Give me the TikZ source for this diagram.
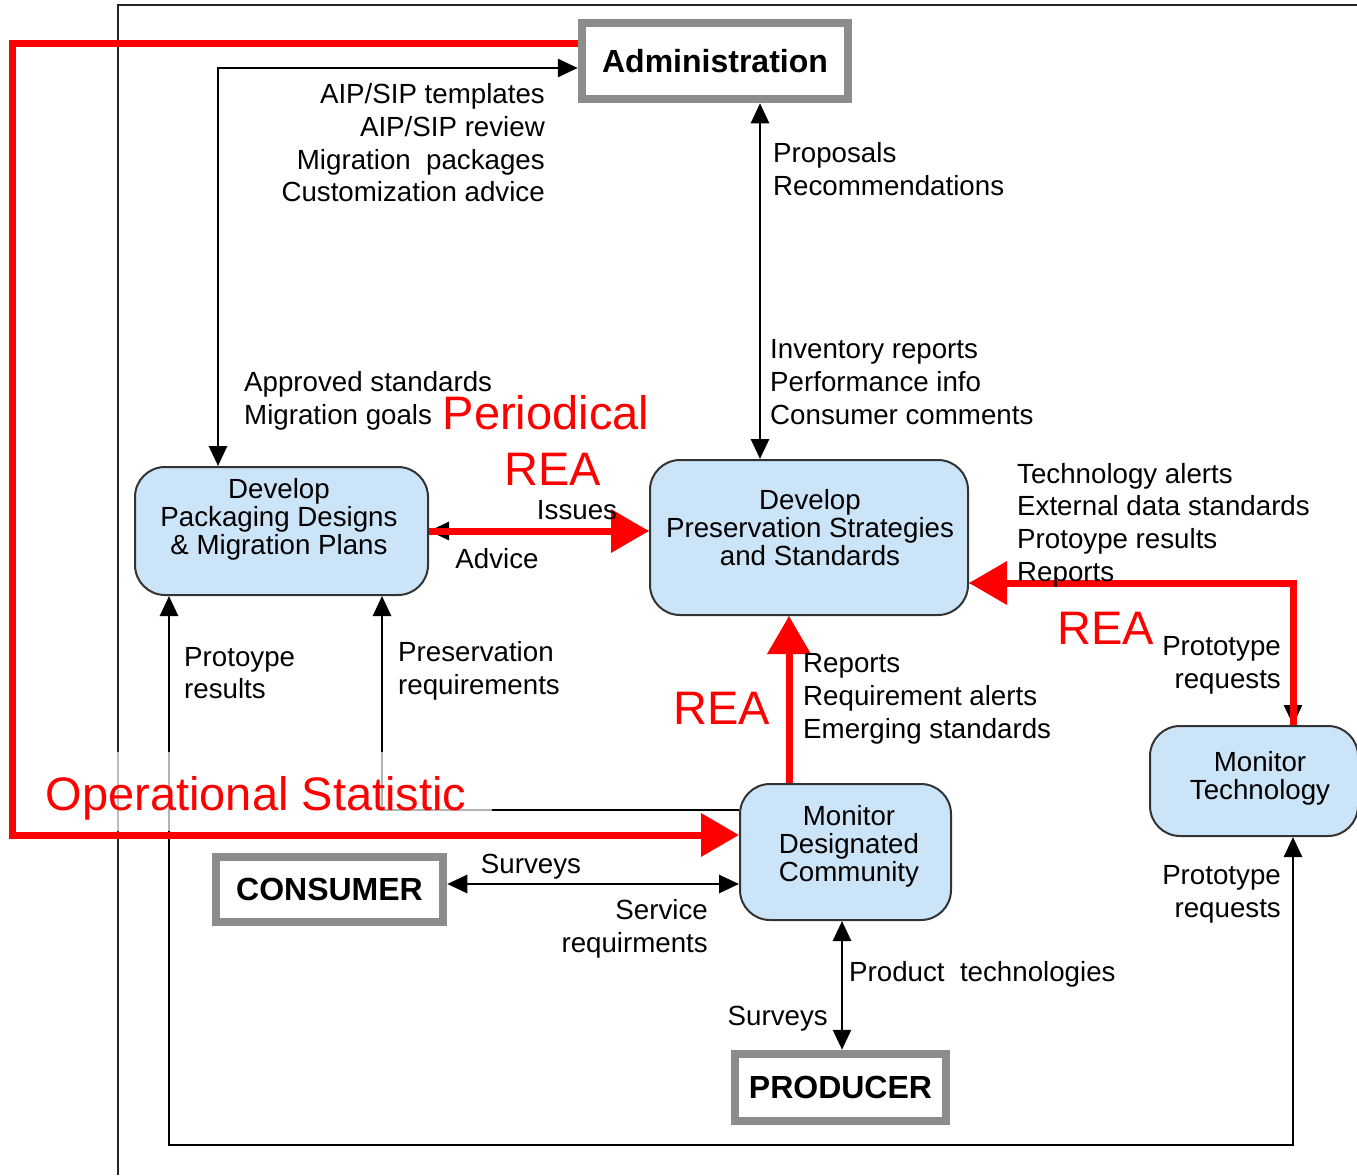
\documentclass[tikz,border=0pt]{standalone}
\usepackage{fontspec}
\setmainfont{Liberation Sans}
\usetikzlibrary{arrows.meta}
\definecolor{boxblue}{RGB}{204,228,248}
\definecolor{boxgray}{RGB}{140,140,140}
\definecolor{redc}{RGB}{255,0,0}
\begin{document}
\begin{tikzpicture}[x=1pt,y=-1pt,
  >={Triangle[length=20pt,width=18pt]},
  lbl/.style={inner sep=0pt, font=\fontsize{27.7}{32.7}\selectfont},
  procbox/.style={draw=black!80, line width=2pt, fill=boxblue, rounded corners=30pt, inner sep=0pt},
  proctext/.style={inner sep=0pt, align=center, font=\fontsize{27.7}{28}\selectfont},
  extbox/.style={draw=boxgray, line width=8.5pt, fill=white, inner sep=0pt, font=\fontsize{32}{38}\selectfont\bfseries},
  blk/.style={line width=2.8pt, black},
  redl/.style={line width=7pt, redc},
  redtip/.style={-{Triangle[length=38pt,width=42pt]}},
  redtxt/.style={inner sep=0pt, text=redc, font=\fontsize{47}{50}\selectfont}
]
\useasboundingbox (0,0) rectangle (1357,1175);
\fill[white] (0,0) rectangle (1357,1175);
% page frame
\draw[line width=1.2pt, black!85] (118,1175) -- (118,5) -- (1357,5);

% boxes
\node[extbox, minimum width=266pt, minimum height=76pt] (adm) at (715,61) {Administration};
\node[extbox, minimum width=227pt, minimum height=65pt] (cons) at (329.5,889.5) {CONSUMER};
\node[extbox, minimum width=211pt, minimum height=67pt] (prod) at (840.5,1087.5) {PRODUCER};

\node[procbox, minimum width=293pt, minimum height=128pt] (pk) at (281.5,531) {};
\node[proctext] (pkt) at (279,519) {Develop\\Packaging Designs\\\& Migration Plans};
\node[procbox, minimum width=318pt, minimum height=155pt] (ps) at (809,537.5) {};
\node[proctext] (pst) at (810,527.5) {Develop\\Preservation Strategies\\and Standards};
\node[procbox, minimum width=211pt, minimum height=136pt] (mdc) at (845.5,852) {};
\node[proctext] (mdct) at (849,846) {Monitor\\Designated\\Community};
\node[procbox, minimum width=208pt, minimum height=110pt] (mt) at (1254,781) {};
\node[proctext] (mtt) at (1260,778) {Monitor\\Technology};

% black connectors
\draw[blk, <->] (218,0 |- pk.north) -- (218,68) -- (adm.west |- 0,68);
\draw[blk, <->] (760,0 |- adm.south) -- (760,0 |- ps.north);
\draw[blk, <->] (pk.east) -- (pk.east -| ps.west);
\draw[blk, ->] (789,0 |- mdc.north) -- (789,0 |- ps.south);
\draw[blk, <->] (1293,0 |- mt.north) -- (1293,583) -- (ps.east |- 0,583);
\draw[blk, <->] (169,0 |- pk.south) -- (169,1145) -- (1293,1145) -- (1293,0 |- mt.south);
\draw[blk, <-] (382,0 |- pk.south) -- (382,810) -- (mdc.west |- 0,810);
\draw[blk, <->] (cons.east |- 0,884) -- (mdc.west |- 0,884);
\draw[blk, <->] (842,0 |- mdc.south) -- (842,0 |- prod.north);

% translucent overlay behind the red caption
\fill[white, fill opacity=0.7] (35,752) rectangle (492,831);

% red connectors
\draw[redl, redtip] (pk.east) -- (pk.east -| ps.west);
\draw[redl, redtip] (789,0 |- mdc.north) -- (789,0 |- ps.south);
\draw[redl, redtip] (1293,0 |- mt.north) -- (1293,583) -- (ps.east |- 0,583);
\draw[redl, redtip] (adm.west |- 0,43) -- (12,43) -- (12,835) -- (mdc.west |- 0,835);

% labels
\node[lbl, anchor=east, align=right] (lAdm) at (545,143) {AIP/SIP templates\\AIP/SIP review\\Migration\ \ packages\\Customization advice};
\node[lbl, anchor=west, align=left] (lProp) at (773,169) {Proposals\\Recommendations};
\node[lbl, anchor=west, align=left] (lInv) at (770,382) {Inventory reports\\Performance info\\Consumer comments};
\node[lbl, anchor=west, align=left] (lApp) at (244,400.5) {Approved standards\\Migration goals};
\node[lbl] (lIss) at (577,510) {Issues};
\node[lbl] (lAdv) at (497,559) {Advice};
\node[lbl, anchor=west, align=left] (lTech) at (1017,525) {Technology alerts\\External data standards\\Protoype results\\Reports};
\node[lbl, anchor=east, align=right] (lPR1) at (1281,665) {Prototype\\requests};
\node[lbl, anchor=west, align=left] (lRep) at (803,699) {Reports\\Requirement alerts\\Emerging standards};
\node[lbl, anchor=west, align=left] (lPr) at (184,673) {Protoype\\results};
\node[lbl, anchor=west, align=left] (lPres) at (398,671) {Preservation\\requirements};
\node[lbl] (lSur) at (531,867) {Surveys};
\node[lbl, anchor=east, align=right] (lServ) at (708,929) {Service\\requirments};
\node[lbl, anchor=west] (lProd) at (849,974) {Product\ \ technologies};
\node[lbl, anchor=east] (lSur2) at (828,1019) {Surveys};
\node[lbl, anchor=east, align=right] (lPR2) at (1281,894) {Prototype\\requests};

% red captions
\node[redtxt] (rPer) at (546,413) {Periodical};
\node[redtxt] (rRea1) at (553,469) {REA};
\node[redtxt] (rRea2) at (722,708) {REA};
\node[redtxt] (rRea3) at (1106,628) {REA};
\node[redtxt] (rOp) at (256,798) {Operational Statistic};
\end{tikzpicture}
\end{document}
